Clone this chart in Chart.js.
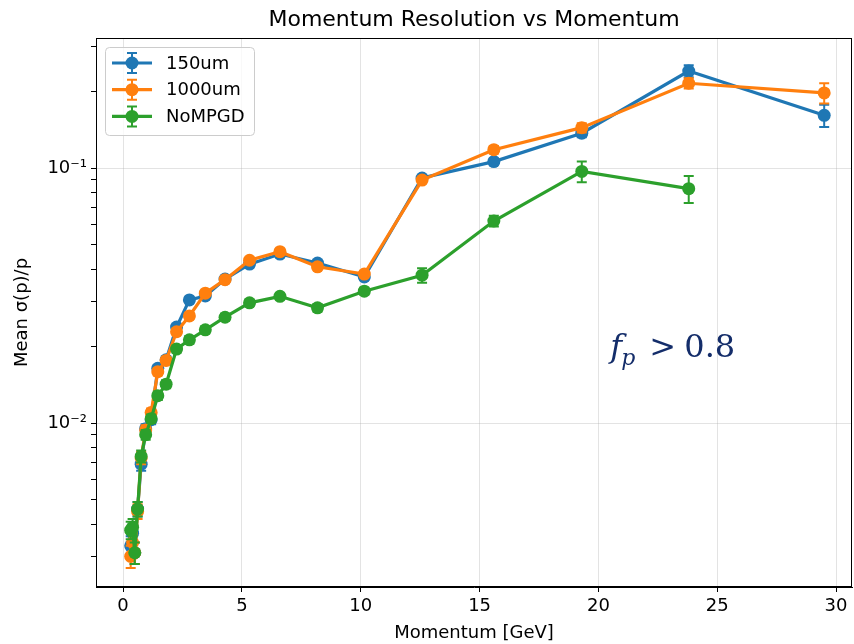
<!DOCTYPE html>
<html>
<head>
<meta charset="utf-8">
<title>Momentum Resolution vs Momentum</title>
<script src="https://cdn.jsdelivr.net/npm/chart.js@4.4.1/dist/chart.umd.min.js"></script>
<style>
  html, body { margin: 0; padding: 0; background: #fff; }
</style>
</head>
<body>
<canvas id="myChart" width="854" height="644"></canvas>
<script>
// Momentum bin centres [GeV]
const momentum = [0.32, 0.40, 0.49, 0.61, 0.76, 0.95, 1.18, 1.46, 1.81, 2.25, 2.79,
  3.46, 4.29, 5.32, 6.6, 8.18, 10.15, 12.58, 15.6, 19.3, 23.8, 29.5];

// Mean sigma(p)/p per configuration
const res150 = [0.0033, 0.0037, 0.0031, 0.0046, 0.0069, 0.0095, 0.0103, 0.0164, 0.0177,
  0.0238, 0.0304, 0.0315, 0.0367, 0.042, 0.046, 0.0424, 0.0374, 0.0914, 0.106, 0.137, 0.240, 0.161];
const res1000 = [0.0030, 0.0034, 0.0031, 0.0045, 0.0073, 0.0094, 0.0110, 0.0159, 0.0176,
  0.0228, 0.0263, 0.0323, 0.0365, 0.0435, 0.047, 0.041, 0.0384, 0.0897, 0.118, 0.144, 0.215, 0.197];
const resNoMPGD = [0.0038, 0.0039, 0.0031, 0.0046, 0.0074, 0.0090, 0.0104, 0.0128, 0.0142,
  0.0195, 0.0212, 0.0232, 0.0260, 0.0296, 0.0314, 0.0283, 0.0329, 0.038, 0.062, 0.097, 0.083, null];

// errors on the mean
const err150 = [0.0003, 0.0003, 0.0003, 0.0003, 0.0004, 0.0004, 0.0004, 0.0005, 0.0005,
  0.0006, 0.0007, 0.0007, 0.0008, 0.0009, 0.001, 0.001, 0.001, 0.002, 0.003, 0.005, 0.013, 0.016];
const err1000 = [0.0003, 0.0003, 0.0003, 0.0003, 0.0004, 0.0004, 0.0004, 0.0005, 0.0005,
  0.0006, 0.0007, 0.0007, 0.0008, 0.0009, 0.001, 0.001, 0.001, 0.002, 0.004, 0.006, 0.010, 0.018];
const errNoMPGD = [0.0003, 0.0003, 0.0003, 0.0003, 0.0004, 0.0004, 0.0004, 0.0005, 0.0005,
  0.0006, 0.0007, 0.0007, 0.0008, 0.0008, 0.0009, 0.0009, 0.001, 0.0025, 0.003, 0.009, 0.010, null];

const seriesNames = ["150um", "1000um", "NoMPGD"];
const seriesColors = ["#1f77b4", "#ff7f0e", "#2ca02c"];

// log axis ticks (majors get a label and a grid line)
const yTicks = [0.003, 0.004, 0.005, 0.006, 0.007, 0.008, 0.009, 0.01, 0.02, 0.03, 0.04,
  0.05, 0.06, 0.07, 0.08, 0.09, 0.1, 0.2, 0.3];
const yMajorLabels = { 0.01: "10\u207B\u00B2", 0.1: "10\u207B\u00B9" };

const chartTitle = "Momentum Resolution vs Momentum";

Chart.defaults.font.family = "'DejaVu Sans', sans-serif";
Chart.defaults.font.size = 18;
Chart.defaults.color = "#000";

function makeDataset(i, values, errors) {
  return {
    label: seriesNames[i],
    data: momentum.map((x, k) => ({ x: x, y: values[k] })),
    errors: errors,
    borderColor: seriesColors[i],
    backgroundColor: seriesColors[i],
    borderWidth: 3.2,
    pointRadius: 6.5,
    pointHoverRadius: 6.5,
    pointBorderWidth: 0,
    tension: 0,
    spanGaps: false,
    order: 2 - i,
  };
}

// vertical error bars with caps, drawn under each series' line
const errorBars = {
  id: "errorBars",
  beforeDatasetDraw(chart, args) {
    const ds = chart.data.datasets[args.index];
    const xs = chart.scales.x, ys = chart.scales.y, ctx = chart.ctx;
    const area = chart.chartArea;
    ctx.save();
    ctx.beginPath();
    ctx.rect(area.left, area.top, area.right - area.left, area.bottom - area.top);
    ctx.clip();
    ctx.strokeStyle = ds.borderColor;
    ctx.lineWidth = 2;
    ds.data.forEach((pt, k) => {
      const e = ds.errors[k];
      if (pt.y == null || e == null) return;
      const px = xs.getPixelForValue(pt.x);
      const top = ys.getPixelForValue(pt.y + e);
      const bot = ys.getPixelForValue(pt.y - e);
      ctx.beginPath();
      ctx.moveTo(px, top); ctx.lineTo(px, bot);
      ctx.moveTo(px - 5, top); ctx.lineTo(px + 5, top);
      ctx.moveTo(px - 5, bot); ctx.lineTo(px + 5, bot);
      ctx.stroke();
    });
    ctx.restore();
  },
};

// title, frame, legend and the f_p annotation
const extras = {
  id: "extras",
  afterDraw(chart) {
    const ctx = chart.ctx, a = chart.chartArea;
    ctx.save();
    ctx.fillStyle = "#000";
    ctx.font = "22px 'DejaVu Sans'";
    ctx.textAlign = "center";
    ctx.textBaseline = "middle";
    ctx.fillText(chartTitle, (a.left + a.right) / 2, 20);

    ctx.strokeStyle = "#000";
    ctx.lineWidth = 1;
    ctx.strokeRect(a.left + 0.5, a.top + 0.5, a.right - a.left - 1, a.bottom - a.top - 1);

    // legend box
    const bx = 105.5, by = 47.5, bw = 149, bh = 88, r = 4;
    ctx.beginPath();
    ctx.moveTo(bx + r, by);
    ctx.arcTo(bx + bw, by, bx + bw, by + bh, r);
    ctx.arcTo(bx + bw, by + bh, bx, by + bh, r);
    ctx.arcTo(bx, by + bh, bx, by, r);
    ctx.arcTo(bx, by, bx + bw, by, r);
    ctx.closePath();
    ctx.fillStyle = "rgba(255,255,255,0.8)";
    ctx.fill();
    ctx.strokeStyle = "#cccccc";
    ctx.stroke();

    seriesNames.forEach((name, i) => {
      const y = 63 + i * 26.7;
      const c = seriesColors[i];
      ctx.strokeStyle = c;
      ctx.lineWidth = 3.2;
      ctx.beginPath(); ctx.moveTo(112, y); ctx.lineTo(152, y); ctx.stroke();
      ctx.lineWidth = 2;
      ctx.beginPath();
      ctx.moveTo(132, y - 10); ctx.lineTo(132, y + 10);
      ctx.moveTo(127, y - 10); ctx.lineTo(137, y - 10);
      ctx.moveTo(127, y + 10); ctx.lineTo(137, y + 10);
      ctx.stroke();
      ctx.fillStyle = c;
      ctx.beginPath(); ctx.arc(132, y, 6.5, 0, Math.PI * 2); ctx.fill();
      ctx.fillStyle = "#000";
      ctx.font = "18px 'DejaVu Sans'";
      ctx.textBaseline = "middle";
      ctx.textAlign = "left";
      ctx.fillText(name, 166, y + 1);
    });

    // annotation placed in data coordinates
    const ax = chart.scales.x.getPixelForValue(20.5);
    const ay = chart.scales.y.getPixelForValue(0.0182);
    ctx.fillStyle = "#142d6a";
    ctx.textBaseline = "alphabetic";
    ctx.font = "italic 32px 'DejaVu Serif'";
    ctx.fillText("f", ax, ay);
    ctx.font = "italic 22px 'DejaVu Serif'";
    ctx.fillText("p", ax + 11, ay + 8);
    ctx.font = "32px 'DejaVu Serif'";
    ctx.fillText(">", ax + 39, ay);
    ctx.fillText("0.8", ax + 74, ay);
    ctx.restore();
  },
};

const ctx = document.getElementById("myChart");

new Chart(ctx, {
  type: "line",
  data: {
    datasets: [
      makeDataset(0, res150, err150),
      makeDataset(1, res1000, err1000),
      makeDataset(2, resNoMPGD, errNoMPGD),
    ],
  },
  options: {
    responsive: false,
    animation: false,
    layout: { autoPadding: false, padding: { left: 0, right: 2, top: 38, bottom: 0 } },
    plugins: {
      legend: { display: false },
      tooltip: { enabled: false },
      title: { display: false },
    },
    scales: {
      x: {
        type: "linear",
        min: -1.14,
        max: 30.67,
        ticks: { stepSize: 5, includeBounds: false, padding: 4, maxRotation: 0 },
        grid: { color: "rgba(176,176,176,0.35)", tickColor: "#000", tickLength: 5 },
        border: { color: "#000", width: 1 },
        title: { display: true, text: "Momentum [GeV]", padding: { top: 0, bottom: 0 } },
        afterFit(scale) {
          scale.height = 57;
          scale.paddingRight = 0;
          scale.paddingLeft = 0;
        },
      },
      y: {
        type: "logarithmic",
        min: 0.002275,
        max: 0.3236,
        afterBuildTicks(scale) {
          scale.ticks = yTicks.map((v) => ({ value: v }));
        },
        ticks: {
          autoSkip: false,
          padding: 4,
          callback: (v) => yMajorLabels[v] || "",
        },
        grid: {
          color: (c) => (c.tick && yMajorLabels[c.tick.value] ? "rgba(176,176,176,0.35)" : "transparent"),
          tickColor: "#000",
          tickLength: 5,
        },
        border: { color: "#000", width: 1 },
        title: { display: true, text: "Mean \u03C3(p)/p", padding: { top: 12, bottom: 0 } },
        afterFit(scale) {
          scale.width = 96;
          scale.paddingTop = 0;
          scale.paddingBottom = 0;
        },
      },
    },
  },
  plugins: [errorBars, extras],
});
</script>
</body>
</html>
